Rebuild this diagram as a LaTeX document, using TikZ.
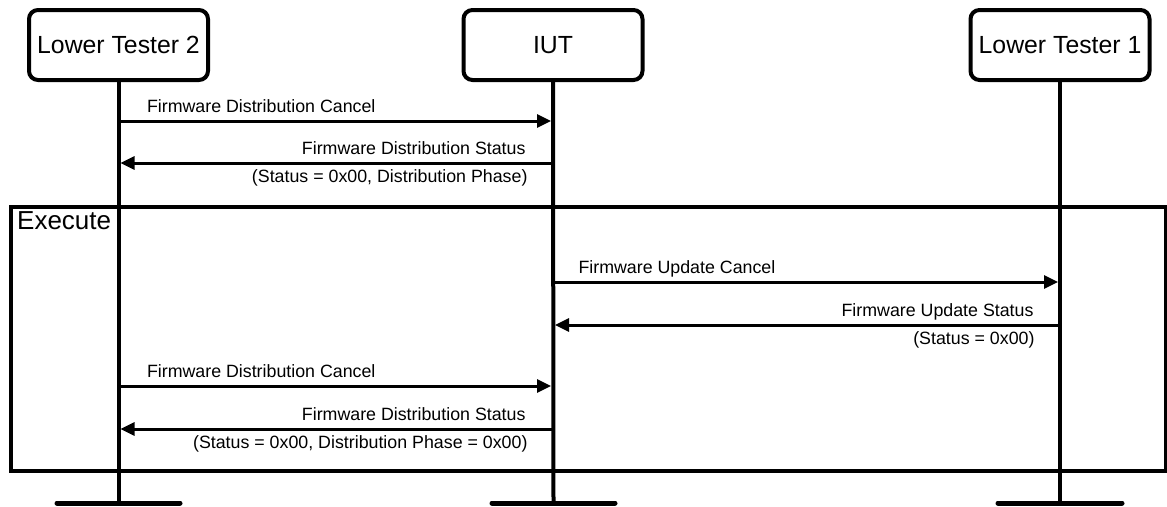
\documentclass[tikz,border=0pt]{standalone}
\usepackage{fontspec}
\setmainfont{Liberation Sans}
\usetikzlibrary{arrows.meta}
\begin{document}
\begin{tikzpicture}[x=1pt,y=-1pt,
  actor/.style={draw, line width=4pt, rounded corners=9pt, minimum width=179pt, minimum height=70pt, inner sep=0pt, font=\fontsize{24.8}{28}\selectfont},
  life/.style={line width=4pt},
  endbar/.style={line width=5pt, line cap=round},
  msg/.style={line width=3pt, shorten >=2pt, -{Triangle[length=14pt,width=13pt]}},
  lbl/.style={inner sep=0pt, font=\fontsize{17.8}{20}\selectfont},
  framebox/.style={line width=3.5pt}]
\useasboundingbox (0,0) rectangle (1167,506);
% frame
\draw[framebox] (11,207) rectangle (1166,471);
\node[inner sep=0pt, anchor=base west, font=\fontsize{26}{28}\selectfont] (exec) at (17,229) {Execute};
% actors
\node[actor] (lt2) at (118.5,45) {Lower Tester 2};
\node[actor] (iut) at (553,45) {IUT};
\node[actor] (lt1) at (1060,45) {Lower Tester 1};
\coordinate (lt2b) at (118.5,503);
\coordinate (iutb) at (553.5,503);
\coordinate (lt1b) at (1060,503);
\draw[life] (lt2.south) -- (lt2b);
\draw[life] (iut.south) -- (iutb);
\draw[life] (lt1.south) -- (lt1b);
\draw[endbar] ([xshift=-61.5pt]lt2b) -- ([xshift=61.5pt]lt2b);
\draw[endbar] ([xshift=-61.5pt]iutb) -- ([xshift=61.5pt]iutb);
\draw[endbar] ([xshift=-62pt]lt1b) -- ([xshift=62pt]lt1b);
% message rows
\coordinate (m1) at (0,121);
\coordinate (m2) at (0,163);
\coordinate (m3) at (0,282);
\coordinate (m4) at (0,325);
\coordinate (m5) at (0,386);
\coordinate (m6) at (0,429);
\draw[msg] (lt2 |- m1) -- node[lbl, pos=0, anchor=base west, xshift=27pt, yshift=9pt] {Firmware Distribution Cancel} (iut |- m1);
\draw[msg] (iut |- m2) -- node[lbl, pos=0, anchor=base east, xshift=-26pt, yshift=8.5pt] {Firmware Distribution Status}
  node[lbl, pos=0, anchor=base east, xshift=-24pt, yshift=-19pt] {(Status = 0x00, Distribution Phase)} (lt2 |- m2);
\draw[msg] (iut |- m3) -- node[lbl, pos=0, anchor=base west, xshift=24pt, yshift=9pt] {Firmware Update Cancel} (lt1 |- m3);
\draw[msg] (lt1 |- m4) -- node[lbl, pos=0, anchor=base east, xshift=-25pt, yshift=8.5pt] {Firmware Update Status}
  node[lbl, pos=0, anchor=base east, xshift=-24pt, yshift=-19pt] {(Status = 0x00)} (iut |- m4);
\draw[msg] (lt2 |- m5) -- node[lbl, pos=0, anchor=base west, xshift=27pt, yshift=9pt] {Firmware Distribution Cancel} (iut |- m5);
\draw[msg] (iut |- m6) -- node[lbl, pos=0, anchor=base east, xshift=-26pt, yshift=8.5pt] {Firmware Distribution Status}
  node[lbl, pos=0, anchor=base east, xshift=-24pt, yshift=-19pt] {(Status = 0x00, Distribution Phase = 0x00)} (lt2 |- m6);
\end{tikzpicture}
\end{document}
